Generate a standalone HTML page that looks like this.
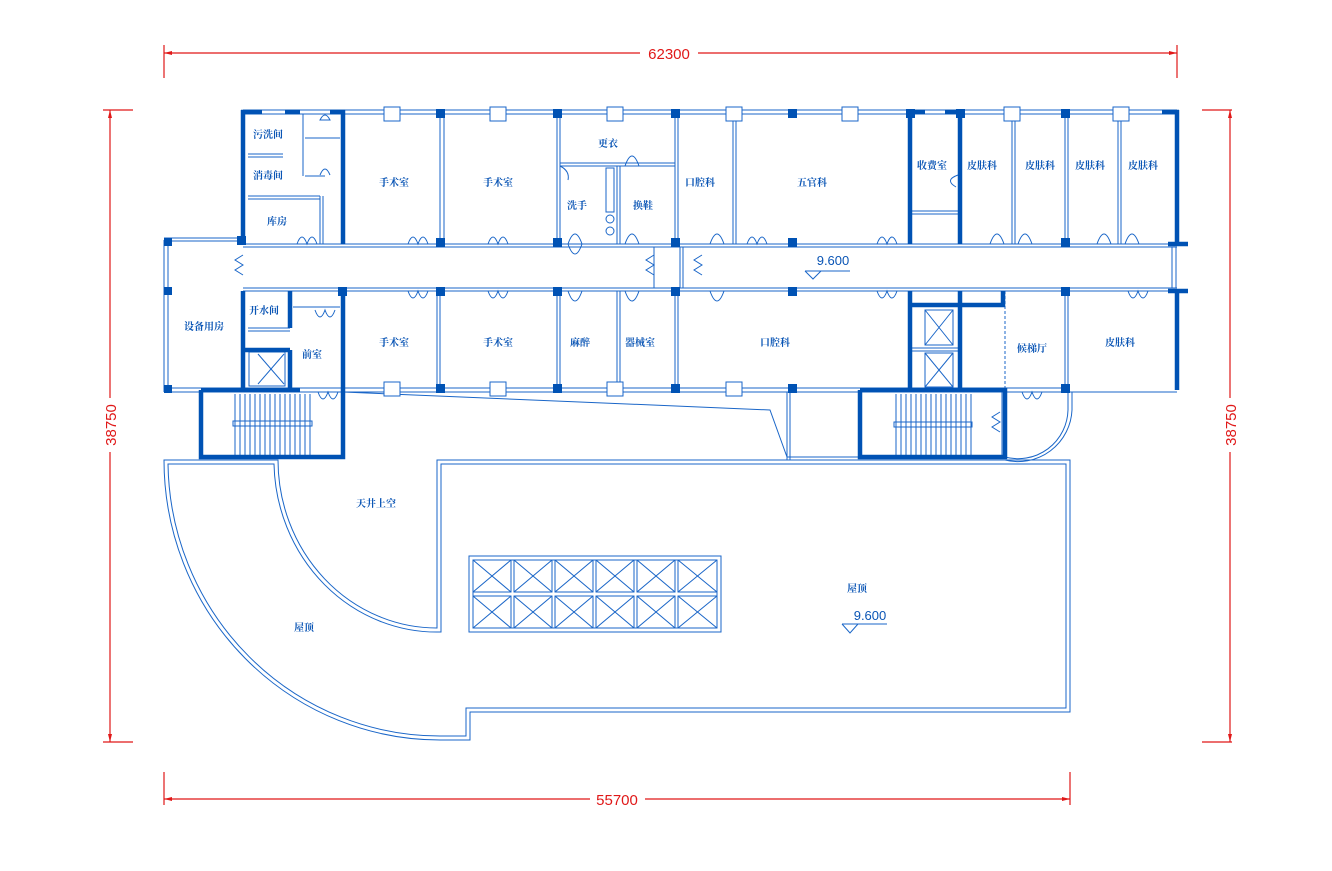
<!DOCTYPE html>
<html><head><meta charset="utf-8"><style>
html,body{margin:0;padding:0;background:#fff;}
svg{display:block}
text{font-family:"Liberation Serif","Noto Serif CJK SC","Noto Sans CJK SC",serif;fill:#0a55b5;font-size:10px;text-anchor:middle;font-weight:bold}
.d{fill:#e01818;font-family:"Liberation Sans",sans-serif;font-size:15px;font-weight:normal}
</style></head><body>
<svg width="1332" height="871" viewBox="0 0 1332 871" xmlns="http://www.w3.org/2000/svg">
<g stroke="#e01818" stroke-width="1.2" fill="none">
<line x1="164" y1="53" x2="640" y2="53"/><line x1="698" y1="53" x2="1177" y2="53"/>
<line x1="164" y1="45" x2="164" y2="78"/><line x1="1177" y1="45" x2="1177" y2="78"/>
<line x1="164" y1="799" x2="590" y2="799"/><line x1="645" y1="799" x2="1070" y2="799"/>
<line x1="164" y1="772" x2="164" y2="805"/><line x1="1070" y1="772" x2="1070" y2="805"/>
<line x1="110" y1="110" x2="110" y2="398"/><line x1="110" y1="452" x2="110" y2="742"/>
<line x1="103" y1="110" x2="133" y2="110"/><line x1="103" y1="742" x2="133" y2="742"/>
<line x1="1230" y1="110" x2="1230" y2="398"/><line x1="1230" y1="452" x2="1230" y2="742"/>
<line x1="1202" y1="110" x2="1232" y2="110"/><line x1="1202" y1="742" x2="1232" y2="742"/>
</g>
<g fill="#e01818">
<polygon points="164,53 172,51 172,55"/><polygon points="1177,53 1169,51 1169,55"/>
<polygon points="164,799 172,797 172,801"/><polygon points="1070,799 1062,797 1062,801"/>
<polygon points="110,110 108,118 112,118"/><polygon points="110,742 108,734 112,734"/>
<polygon points="1230,110 1228,118 1232,118"/><polygon points="1230,742 1228,734 1232,734"/>
</g>
<text class="d" x="669" y="59">62300</text>
<text class="d" x="617" y="805">55700</text>
<text class="d" transform="translate(116,425) rotate(-90)">38750</text>
<text class="d" transform="translate(1236,425) rotate(-90)">38750</text>

<g stroke="#1a66c8" stroke-width="1" fill="none">
<line x1="243" y1="110" x2="1177" y2="110"/><line x1="243" y1="114" x2="1177" y2="114"/>
<line x1="243" y1="244" x2="1177" y2="244"/><line x1="243" y1="247" x2="1177" y2="247"/>
<line x1="243" y1="288" x2="1177" y2="288"/><line x1="243" y1="291" x2="1177" y2="291"/>
<line x1="164" y1="388" x2="1070" y2="388"/><line x1="164" y1="392" x2="1177" y2="392"/>
<line x1="164" y1="238" x2="243" y2="238"/><line x1="164" y1="241" x2="243" y2="241"/>
<line x1="164" y1="240" x2="164" y2="392"/><line x1="168" y1="240" x2="168" y2="392"/>
<line x1="440" y1="114" x2="440" y2="244"/><line x1="444" y1="114" x2="444" y2="244"/>
<line x1="557" y1="114" x2="557" y2="244"/><line x1="560" y1="114" x2="560" y2="244"/>
<line x1="675" y1="114" x2="675" y2="244"/><line x1="678" y1="114" x2="678" y2="244"/>
<line x1="733" y1="114" x2="733" y2="244"/><line x1="736" y1="114" x2="736" y2="244"/>
<line x1="1012" y1="114" x2="1012" y2="244"/><line x1="1015" y1="114" x2="1015" y2="244"/>
<line x1="1065" y1="114" x2="1065" y2="244"/><line x1="1068" y1="114" x2="1068" y2="244"/>
<line x1="1118" y1="114" x2="1118" y2="244"/><line x1="1121" y1="114" x2="1121" y2="244"/>
<line x1="560" y1="163" x2="675" y2="163"/><line x1="560" y1="166" x2="675" y2="166"/>
<line x1="617" y1="166" x2="617" y2="244"/><line x1="620" y1="166" x2="620" y2="244"/>
<rect x="606" y="168" width="8" height="44"/>
<circle cx="610" cy="219" r="4"/><circle cx="610" cy="231" r="4"/>
<line x1="912" y1="211" x2="958" y2="211"/><line x1="912" y1="214" x2="958" y2="214"/>
<line x1="437" y1="291" x2="437" y2="388"/><line x1="440" y1="291" x2="440" y2="388"/>
<line x1="557" y1="291" x2="557" y2="388"/><line x1="560" y1="291" x2="560" y2="388"/>
<line x1="617" y1="291" x2="617" y2="388"/><line x1="620" y1="291" x2="620" y2="388"/>
<line x1="675" y1="291" x2="675" y2="388"/><line x1="678" y1="291" x2="678" y2="388"/>
<line x1="1065" y1="291" x2="1065" y2="392"/><line x1="1068" y1="291" x2="1068" y2="392"/>
<line x1="1005" y1="291" x2="1005" y2="392" stroke-dasharray="3,2"/>
<line x1="248" y1="154" x2="283" y2="154"/><line x1="248" y1="157" x2="283" y2="157"/>
<line x1="248" y1="196" x2="320" y2="196"/><line x1="248" y1="199" x2="320" y2="199"/>
<line x1="320" y1="196" x2="320" y2="244"/><line x1="323" y1="196" x2="323" y2="244"/>
<line x1="303" y1="114" x2="303" y2="176"/><line x1="305" y1="138" x2="340" y2="138"/><line x1="305" y1="176" x2="325" y2="176"/>
<line x1="248" y1="328" x2="290" y2="328"/><line x1="248" y1="331" x2="290" y2="331"/>
<line x1="293" y1="307" x2="340" y2="307"/>
<line x1="1176" y1="247" x2="1176" y2="288"/><line x1="1172" y1="247" x2="1172" y2="288"/>
<line x1="680" y1="247" x2="680" y2="288"/><line x1="683" y1="247" x2="683" y2="288"/>
<line x1="654" y1="247" x2="654" y2="288"/>
<g>
<line x1="235" y1="394" x2="235" y2="455"/><line x1="240" y1="394" x2="240" y2="455"/><line x1="245" y1="394" x2="245" y2="455"/><line x1="250" y1="394" x2="250" y2="455"/><line x1="255" y1="394" x2="255" y2="455"/><line x1="260" y1="394" x2="260" y2="455"/><line x1="265" y1="394" x2="265" y2="455"/><line x1="270" y1="394" x2="270" y2="455"/><line x1="275" y1="394" x2="275" y2="455"/><line x1="280" y1="394" x2="280" y2="455"/><line x1="285" y1="394" x2="285" y2="455"/><line x1="290" y1="394" x2="290" y2="455"/><line x1="295" y1="394" x2="295" y2="455"/><line x1="300" y1="394" x2="300" y2="455"/><line x1="305" y1="394" x2="305" y2="455"/><line x1="310" y1="394" x2="310" y2="455"/>
<rect x="233" y="421" width="79" height="5"/>
<line x1="896" y1="394" x2="896" y2="455"/><line x1="901" y1="394" x2="901" y2="455"/><line x1="906" y1="394" x2="906" y2="455"/><line x1="911" y1="394" x2="911" y2="455"/><line x1="916" y1="394" x2="916" y2="455"/><line x1="921" y1="394" x2="921" y2="455"/><line x1="926" y1="394" x2="926" y2="455"/><line x1="931" y1="394" x2="931" y2="455"/><line x1="936" y1="394" x2="936" y2="455"/><line x1="941" y1="394" x2="941" y2="455"/><line x1="946" y1="394" x2="946" y2="455"/><line x1="951" y1="394" x2="951" y2="455"/><line x1="956" y1="394" x2="956" y2="455"/><line x1="961" y1="394" x2="961" y2="455"/><line x1="966" y1="394" x2="966" y2="455"/><line x1="971" y1="394" x2="971" y2="455"/>
<rect x="894" y="422" width="78" height="5"/>
</g>
<rect x="249" y="352" width="36" height="34"/><line x1="258" y1="354" x2="284" y2="384"/><line x1="284" y1="354" x2="258" y2="384"/>
<rect x="925" y="310" width="28" height="35"/><line x1="925" y1="310" x2="953" y2="345"/><line x1="953" y1="310" x2="925" y2="345"/>
<rect x="925" y="353" width="28" height="34"/><line x1="925" y1="353" x2="953" y2="387"/><line x1="953" y1="353" x2="925" y2="387"/>
<line x1="912" y1="348" x2="958" y2="348"/><line x1="912" y1="351" x2="958" y2="351"/>
<polyline points="343,392 770,410 787,457 860,457"/>
<line x1="787" y1="392" x2="787" y2="460"/><line x1="790" y1="392" x2="790" y2="460"/>
<line x1="790" y1="460" x2="860" y2="460" stroke-dasharray="3,2"/>
<line x1="1002" y1="392" x2="1002" y2="457"/>
<path d="M1068,392 L1068,410 A50,50 0 0 1 1005,457"/>
<path d="M1072,392 L1072,410 A54,54 0 0 1 1005,460"/>
<line x1="1005" y1="460" x2="1070" y2="460"/>
<path d="M437,460 L1070,460 L1070,712 L470,712 L470,740 L440,740 A276,280 0 0 1 164,460 L278,460 A159,168 0 0 0 437,628 Z"/>
<path d="M441,464 L1066,464 L1066,708 L466,708 L466,736 L440,736 A272,276 0 0 1 168,464 L274,464 A163,172 0 0 0 441,632 Z"/>
<rect x="469" y="556" width="252" height="76"/>
<rect x="473" y="560" width="244" height="68"/>
</g>
<g stroke="#1a66c8" stroke-width="1" fill="none">
<rect x="473" y="560" width="38" height="32"/><line x1="473" y1="560" x2="511" y2="592"/><line x1="511" y1="560" x2="473" y2="592"/>
<rect x="514" y="560" width="38" height="32"/><line x1="514" y1="560" x2="552" y2="592"/><line x1="552" y1="560" x2="514" y2="592"/>
<rect x="555" y="560" width="38" height="32"/><line x1="555" y1="560" x2="593" y2="592"/><line x1="593" y1="560" x2="555" y2="592"/>
<rect x="596" y="560" width="38" height="32"/><line x1="596" y1="560" x2="634" y2="592"/><line x1="634" y1="560" x2="596" y2="592"/>
<rect x="637" y="560" width="38" height="32"/><line x1="637" y1="560" x2="675" y2="592"/><line x1="675" y1="560" x2="637" y2="592"/>
<rect x="678" y="560" width="39" height="32"/><line x1="678" y1="560" x2="717" y2="592"/><line x1="717" y1="560" x2="678" y2="592"/>
<rect x="473" y="596" width="38" height="32"/><line x1="473" y1="596" x2="511" y2="628"/><line x1="511" y1="596" x2="473" y2="628"/>
<rect x="514" y="596" width="38" height="32"/><line x1="514" y1="596" x2="552" y2="628"/><line x1="552" y1="596" x2="514" y2="628"/>
<rect x="555" y="596" width="38" height="32"/><line x1="555" y1="596" x2="593" y2="628"/><line x1="593" y1="596" x2="555" y2="628"/>
<rect x="596" y="596" width="38" height="32"/><line x1="596" y1="596" x2="634" y2="628"/><line x1="634" y1="596" x2="596" y2="628"/>
<rect x="637" y="596" width="38" height="32"/><line x1="637" y1="596" x2="675" y2="628"/><line x1="675" y1="596" x2="637" y2="628"/>
<rect x="678" y="596" width="39" height="32"/><line x1="678" y1="596" x2="717" y2="628"/><line x1="717" y1="596" x2="678" y2="628"/>
<path d="M408,244 q5,-14 10,0 q5,-14 10,0"/><path d="M488,244 q5,-14 10,0 q5,-14 10,0"/>
<path d="M408,291 q5,14 10,0 q5,14 10,0"/><path d="M488,291 q5,14 10,0 q5,14 10,0"/>
<path d="M297,244 q5,-14 10,0 q5,-14 10,0"/><path d="M747,244 q5,-14 10,0 q5,-14 10,0"/>
<path d="M877,244 q5,-14 10,0 q5,-14 10,0"/><path d="M877,291 q5,14 10,0 q5,14 10,0"/>
<path d="M1128,291 q5,14 10,0 q5,14 10,0"/><path d="M315,310 q5,14 10,0 q5,14 10,0"/>
<path d="M318,392 q5,14 10,0 q5,14 10,0"/><path d="M1022,392 q5,14 10,0 q5,14 10,0"/>
<path d="M568,244 q7,-20 14,0 q-7,20 -14,0"/><path d="M625,244 q7,-20 14,0"/><path d="M710,244 q7,-20 14,0"/>
<path d="M990,244 q7,-20 14,0"/><path d="M1018,244 q7,-20 14,0"/><path d="M1097,244 q7,-20 14,0"/><path d="M1125,244 q7,-20 14,0"/>
<path d="M568,291 q7,20 14,0"/><path d="M625,291 q7,20 14,0"/><path d="M710,291 q7,20 14,0"/>
<path d="M625,166 q7,-20 14,0"/><path d="M560,166 q10,5 8,14"/>
<path d="M243,255 l-8,5 l8,5 l-8,5 l8,5"/><path d="M654,255 l-8,5 l8,5 l-8,5 l8,5"/><path d="M702,255 l-8,5 l8,5 l-8,5 l8,5"/>
<path d="M1000,412 l-8,5 l8,5 l-8,5 l8,5"/>
<path d="M958,175 q-14,5 -2,12"/><path d="M320,120 q5,-10 10,0 z"/><path d="M320,175 q5,-12 10,0"/>
<line x1="805" y1="271" x2="850" y2="271"/><path d="M805,271 l8,8 l8,-8"/>
<line x1="842" y1="624" x2="887" y2="624"/><path d="M842,624 l8,9 l8,-9"/>
</g>
<g stroke="#1a66c8" stroke-width="1" fill="#fff">
<rect x="384" y="107" width="16" height="14"/><rect x="490" y="107" width="16" height="14"/><rect x="607" y="107" width="16" height="14"/>
<rect x="726" y="107" width="16" height="14"/><rect x="842" y="107" width="16" height="14"/><rect x="1004" y="107" width="16" height="14"/><rect x="1113" y="107" width="16" height="14"/>
<rect x="384" y="382" width="16" height="14"/><rect x="490" y="382" width="16" height="14"/><rect x="607" y="382" width="16" height="14"/><rect x="726" y="382" width="16" height="14"/>
</g>
<g stroke="#0052b4" stroke-width="4.5" fill="none">
<polyline points="243,110 243,244"/><polyline points="343,110 343,244"/>
<line x1="241" y1="112" x2="262" y2="112"/><line x1="285" y1="112" x2="300" y2="112"/><line x1="330" y1="112" x2="345" y2="112"/>
<line x1="908" y1="112" x2="925" y2="112"/><line x1="945" y1="112" x2="962" y2="112"/><line x1="1162" y1="112" x2="1179" y2="112"/>
<polyline points="243,291 243,390"/><polyline points="290,291 290,328"/><polyline points="290,350 290,390"/>
<polyline points="243,350 290,350"/>
<polyline points="201,390 201,457 343,457 343,291"/>
<polyline points="201,390 300,390"/>
<polyline points="910,114 910,244"/><polyline points="960,114 960,244"/>
<polyline points="910,291 910,390"/><polyline points="960,291 960,390"/><polyline points="910,305 1003,305 1003,291"/>
<polyline points="860,390 860,457 1005,457 1005,390 860,390"/>
<polyline points="1177,110 1177,244"/><polyline points="1177,291 1177,390"/>
<line x1="1168" y1="244" x2="1188" y2="244"/><line x1="1168" y1="291" x2="1188" y2="291"/>
</g>
<g fill="#0052b4">
<rect x="338" y="287" width="9" height="9"/><rect x="237" y="236" width="9" height="9"/>
<rect x="164" y="238" width="8" height="8"/><rect x="164" y="287" width="8" height="8"/><rect x="164" y="385" width="8" height="8"/>
<rect x="436" y="109" width="9" height="9"/><rect x="553" y="109" width="9" height="9"/><rect x="671" y="109" width="9" height="9"/><rect x="788" y="109" width="9" height="9"/>
<rect x="436" y="238" width="9" height="9"/><rect x="553" y="238" width="9" height="9"/><rect x="671" y="238" width="9" height="9"/><rect x="788" y="238" width="9" height="9"/>
<rect x="436" y="287" width="9" height="9"/><rect x="553" y="287" width="9" height="9"/><rect x="671" y="287" width="9" height="9"/><rect x="788" y="287" width="9" height="9"/>
<rect x="436" y="384" width="9" height="9"/><rect x="553" y="384" width="9" height="9"/><rect x="671" y="384" width="9" height="9"/><rect x="788" y="384" width="9" height="9"/>
<rect x="1061" y="109" width="9" height="9"/><rect x="1061" y="238" width="9" height="9"/><rect x="1061" y="287" width="9" height="9"/><rect x="1061" y="384" width="9" height="9"/>
<rect x="906" y="109" width="9" height="9"/><rect x="956" y="109" width="9" height="9"/>
</g>
<text x="268" y="138">污洗间</text><text x="268" y="179">消毒间</text><text x="277" y="225">库房</text>
<text x="394" y="186">手术室</text><text x="498" y="186">手术室</text>
<text x="608" y="147">更衣</text><text x="577" y="209">洗手</text><text x="643" y="209">换鞋</text>
<text x="700" y="186">口腔科</text><text x="812" y="186">五官科</text>
<text x="932" y="169">收费室</text><text x="982" y="169">皮肤科</text><text x="1040" y="169">皮肤科</text><text x="1090" y="169">皮肤科</text><text x="1143" y="169">皮肤科</text>
<text x="264" y="314">开水间</text><text x="204" y="330">设备用房</text><text x="312" y="358">前室</text>
<text x="394" y="346">手术室</text><text x="498" y="346">手术室</text><text x="580" y="346">麻醉</text><text x="640" y="346">器械室</text>
<text x="775" y="346">口腔科</text><text x="1032" y="352">候梯厅</text><text x="1120" y="346">皮肤科</text>
<text x="376" y="507">天井上空</text><text x="304" y="631">屋顶</text><text x="857" y="592">屋顶</text>
<text x="833" y="265" style="font-family:'Liberation Sans',sans-serif;font-size:13px;font-weight:normal">9.600</text>
<text x="870" y="620" style="font-family:'Liberation Sans',sans-serif;font-size:13px;font-weight:normal">9.600</text>
</svg>
</body></html>
